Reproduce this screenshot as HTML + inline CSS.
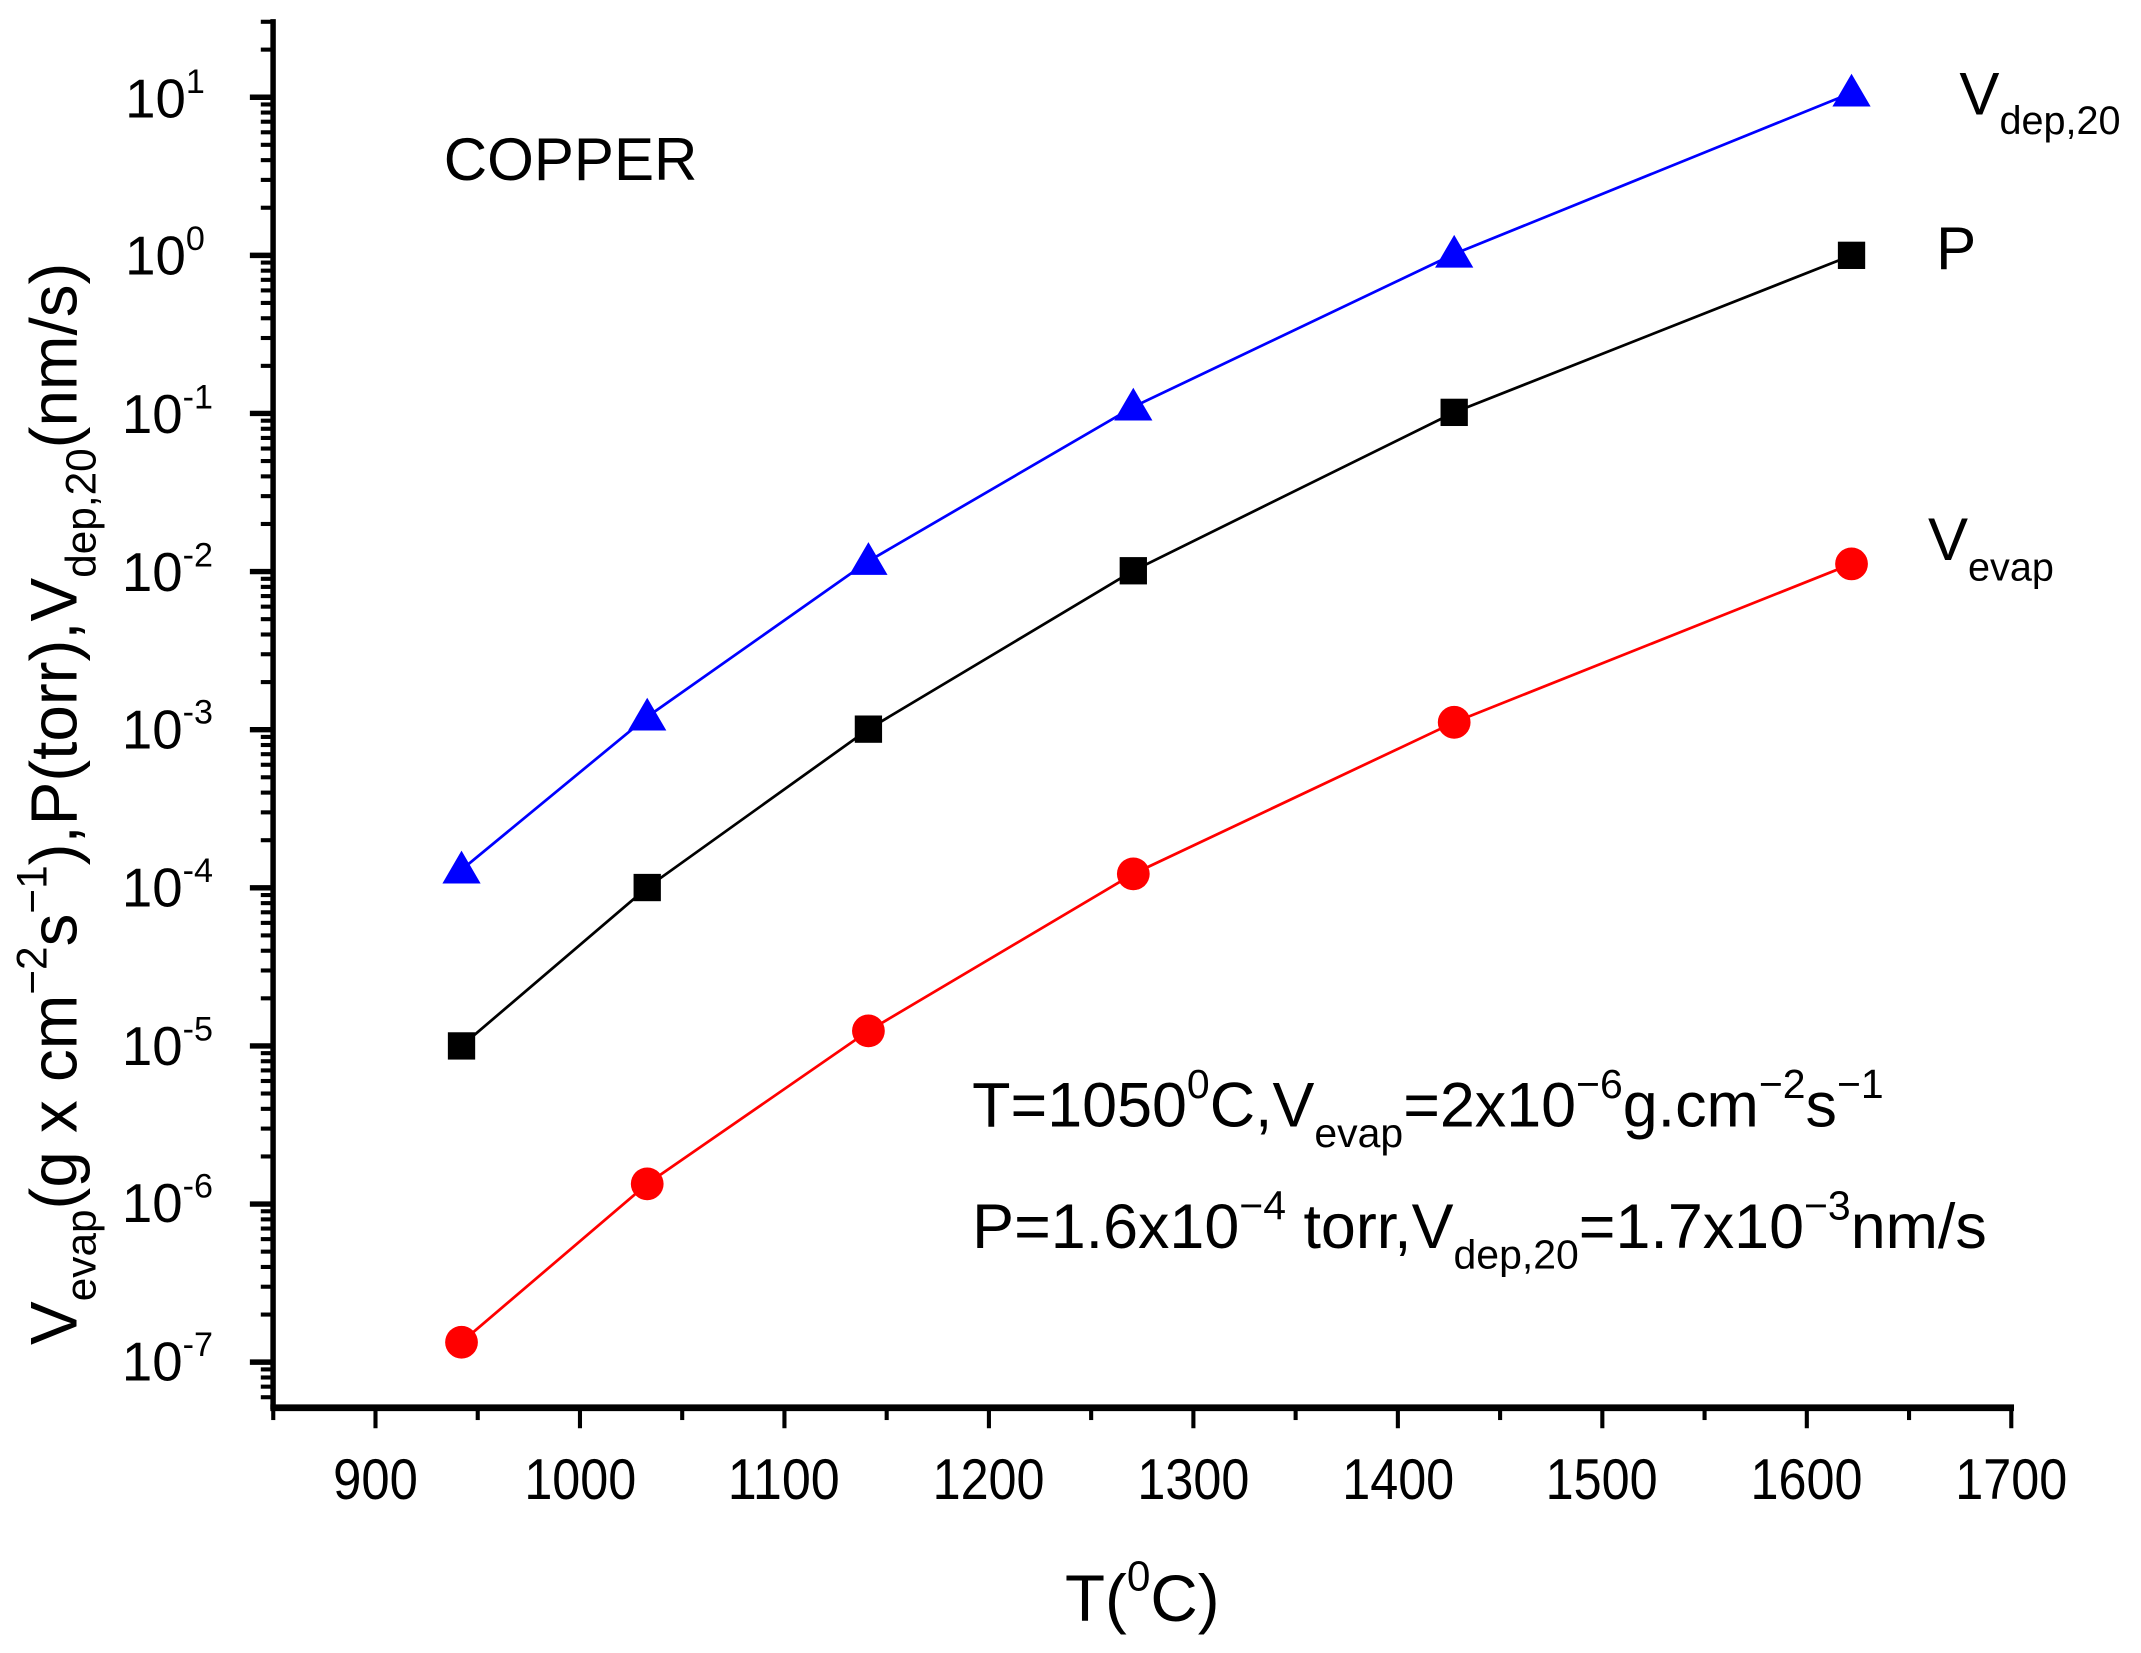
<!DOCTYPE html>
<html><head><meta charset="utf-8"><style>
html,body{margin:0;padding:0;background:#fff;}
svg{display:block;}
text{font-family:"Liberation Sans",Arial,sans-serif;fill:#000;}
</style></head><body>
<svg id="s" width="2141" height="1653" viewBox="0 0 1568 1210.6" preserveAspectRatio="none" xmlns="http://www.w3.org/2000/svg">
<g id="ticks" stroke="#000" stroke-width="3"></g>
<line x1="200" y1="14" x2="200" y2="1032" stroke="#000" stroke-width="4"/>
<line x1="198" y1="1031" x2="1475" y2="1031" stroke="#000" stroke-width="5"/>

<!-- y tick labels -->
<g font-size="40" text-anchor="end">
<text x="150" y="86">10<tspan dy="-18" font-size="25">1</tspan></text>
<text x="150" y="201">10<tspan dy="-18" font-size="25">0</tspan></text>
<text x="156" y="317">10<tspan dy="-18" font-size="25">-1</tspan></text>
<text x="156" y="433">10<tspan dy="-18" font-size="25">-2</tspan></text>
<text x="156" y="548">10<tspan dy="-18" font-size="25">-3</tspan></text>
<text x="156" y="664">10<tspan dy="-18" font-size="25">-4</tspan></text>
<text x="156" y="780">10<tspan dy="-18" font-size="25">-5</tspan></text>
<text x="156" y="895">10<tspan dy="-18" font-size="25">-6</tspan></text>
<text x="156" y="1011">10<tspan dy="-18" font-size="25">-7</tspan></text>
</g>
<!-- x tick labels -->
<g font-size="42" text-anchor="middle">
<text x="275" y="1098" textLength="62" lengthAdjust="spacingAndGlyphs">900</text>
<text x="425" y="1098" textLength="82" lengthAdjust="spacingAndGlyphs">1000</text>
<text x="574" y="1098" textLength="82" lengthAdjust="spacingAndGlyphs">1100</text>
<text x="724" y="1098" textLength="82" lengthAdjust="spacingAndGlyphs">1200</text>
<text x="874" y="1098" textLength="82" lengthAdjust="spacingAndGlyphs">1300</text>
<text x="1024" y="1098" textLength="82" lengthAdjust="spacingAndGlyphs">1400</text>
<text x="1173" y="1098" textLength="82" lengthAdjust="spacingAndGlyphs">1500</text>
<text x="1323" y="1098" textLength="82" lengthAdjust="spacingAndGlyphs">1600</text>
<text x="1473" y="1098" textLength="82" lengthAdjust="spacingAndGlyphs">1700</text>
</g>
<text x="780" y="1187" font-size="48">T(<tspan dy="-22" font-size="31">0</tspan><tspan dy="22">C)</tspan></text>

<text transform="translate(56,985) rotate(-90)" font-size="48">V<tspan dy="14" font-size="31">evap</tspan><tspan dy="-14">(g x cm</tspan><tspan dy="-22" font-size="31">−2</tspan><tspan dy="22">s</tspan><tspan dy="-22" font-size="31">−1</tspan><tspan dy="22">),P(torr),V</tspan><tspan dy="14" font-size="31">dep,20</tspan><tspan dy="-14">(nm/s)</tspan></text>

<text x="325" y="132" font-size="44">COPPER</text>

<text x="712" y="825" font-size="46">T=1050<tspan dy="-21" font-size="30">0</tspan><tspan dy="21">C,V</tspan><tspan dy="15" font-size="30">evap</tspan><tspan dy="-15">=2x10</tspan><tspan dy="-21" font-size="30">−6</tspan><tspan dy="21">g.cm</tspan><tspan dy="-21" font-size="30">−2</tspan><tspan dy="21">s</tspan><tspan dy="-21" font-size="30">−1</tspan></text>
<text x="712" y="914" font-size="46">P=1.6x10<tspan dy="-21" font-size="30">−4</tspan><tspan dy="21"> torr,V</tspan><tspan dy="15" font-size="30">dep,20</tspan><tspan dy="-15">=1.7x10</tspan><tspan dy="-21" font-size="30">−3</tspan><tspan dy="21">nm/s</tspan></text>

<text x="1435" y="84" font-size="44">V<tspan dy="14" font-size="29">dep,20</tspan></text>
<text x="1418" y="197" font-size="44">P</text>
<text x="1412" y="410" font-size="44">V<tspan dy="15" font-size="29">evap</tspan></text>

<!-- series -->
<polyline fill="none" stroke="#0000ff" stroke-width="2" points="338,637 474,525 636,411 830,298 1065,186 1356,68"/>
<polyline fill="none" stroke="#000" stroke-width="2" points="338,766 474,650 636,534 830,418 1065,302 1356,187"/>
<polyline fill="none" stroke="#ff0000" stroke-width="2" points="338,983 474,867 636,755 830,640 1065,529 1356,413"/>
<g fill="#0000ff" id="tri"></g>
<g fill="#000">
<rect x="328" y="756" width="20" height="20"/><rect x="464" y="640" width="20" height="20"/>
<rect x="626" y="524" width="20" height="20"/><rect x="820" y="408" width="20" height="20"/>
<rect x="1055" y="292" width="20" height="20"/><rect x="1346" y="177" width="20" height="20"/>
</g>
<g fill="#ff0000">
<circle cx="338" cy="983" r="12"/><circle cx="474" cy="867" r="12"/><circle cx="636" cy="755" r="12"/>
<circle cx="830" cy="640" r="12"/><circle cx="1065" cy="529" r="12"/><circle cx="1356" cy="413" r="12"/>
</g>
</svg>
<script>
var ns="http://www.w3.org/2000/svg";
var g=document.getElementById("ticks");
function ln(x1,y1,x2,y2,w){var l=document.createElementNS(ns,"line");l.setAttribute("x1",x1);l.setAttribute("y1",y1);l.setAttribute("x2",x2);l.setAttribute("y2",y2);l.setAttribute("stroke-width",w);g.appendChild(l);}
function yy(e){return 187-115.8*e;}
for(var e=-8;e<=1;e++){
  var y=yy(e); if(y>=14&&y<=1032) ln(183,y,200,y,4);
  for(var m=2;m<=9;m++){var y2=yy(e+Math.log10(m)); if(y2>=14&&y2<=1031) ln(191,y2,200,y2,3);}
}
for(var t=850;t<=1700;t+=50){var x=275+(t-900)*1.4975; var major=(t%100==0); ln(x,1031,x,major?1046:1040,3);}
var tg=document.getElementById("tri");
[[338,637],[474,525],[636,411],[830,298],[1065,186],[1356,68]].forEach(function(p){
 var pl=document.createElementNS(ns,"polygon");
 pl.setAttribute("points",(p[0])+","+(p[1]-14)+" "+(p[0]-14)+","+(p[1]+10)+" "+(p[0]+14)+","+(p[1]+10));
 tg.appendChild(pl);});
</script>
</body></html>
